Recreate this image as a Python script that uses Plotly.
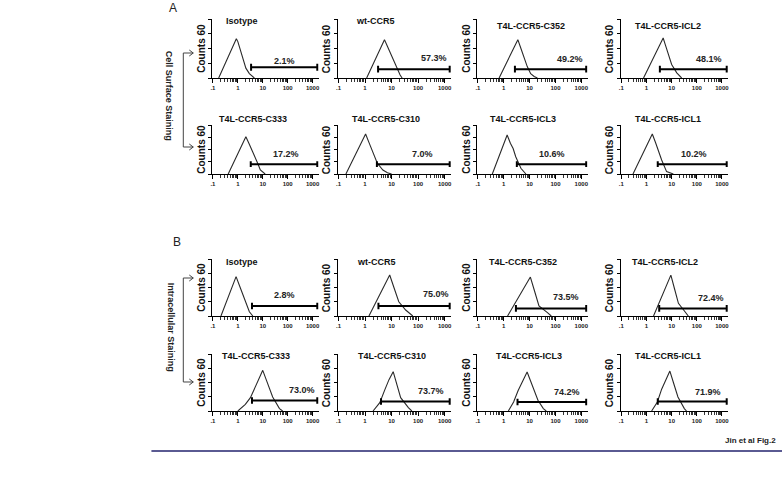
import math
import plotly.graph_objects as go

W, H = 783, 480

titles = ["Isotype", "wt-CCR5", "T4L-CCR5-C352", "T4L-CCR5-ICL2",
          "T4L-CCR5-C333", "T4L-CCR5-C310", "T4L-CCR5-ICL3", "T4L-CCR5-ICL1"]
pct_A = ["2.1%", "57.3%", "49.2%", "48.1%", "17.2%", "7.0%", "10.6%", "10.2%"]
pct_B = ["2.8%", "75.0%", "73.5%", "72.4%", "73.0%", "73.7%", "74.2%", "71.9%"]

# Histogram outlines (fluorescence, counts)
fluor_A = [
    [0.17, 0.3, 0.5, 0.7, 0.87, 1.0, 1.3, 1.8, 2.1, 2.9, 4.0, 4.6],
    [1.15, 1.6, 2.3, 3.2, 4.5, 5.4, 6.5, 9, 13, 16, 21, 25],
    [0.66, 1.0, 1.5, 2.2, 3.0, 3.5, 4.3, 6, 8.1, 11, 15, 20],
    [0.76, 1.2, 1.8, 2.6, 3.6, 4.6, 5.5, 7, 10, 16, 25],
    [0.41, 0.7, 1.0, 1.5, 2.1, 2.8, 3.6, 4.9, 6.5, 8, 12.5],
    [0.19, 0.35, 0.55, 0.8, 1.05, 1.4, 1.9, 2.9, 4.7, 7, 10],
    [0.36, 0.55, 0.8, 1.1, 1.35, 1.8, 2.3, 2.9, 4.6, 7.2],
    [0.29, 0.5, 0.8, 1.2, 1.7, 2.3, 3.0, 4.0, 6.3, 11.7],
]
counts_A = [
    [0, 14, 27, 35, 40, 37, 27, 15, 10, 4.5, 1, 0],
    [0, 8, 17.5, 26, 34.5, 39, 34, 25, 15, 9.6, 3, 0],
    [0, 9.8, 19, 28.6, 35.6, 39, 32.3, 21, 11.6, 4.3, 1.5, 0],
    [0, 10.4, 19.5, 27.9, 35.3, 40.7, 34.4, 26, 13.8, 5.2, 0],
    [0, 15, 25, 36.4, 45.7, 37.3, 30.1, 21.2, 12, 4.9, 0],
    [0, 17.5, 30.5, 41.2, 49, 38.7, 27.9, 13.1, 4.9, 1.5, 0],
    [0, 15.1, 28.7, 40.3, 47.8, 37.7, 31.2, 21.2, 7, 0],
    [0, 15.1, 27.9, 38.9, 49, 38.2, 28, 17.1, 2.9, 0],
]
fluor_B = [
    [0.21, 0.35, 0.55, 0.85, 1.2, 1.6, 2.1, 2.9, 4.0],
    [1.4, 2.3, 3.5, 5.5, 8.5, 12, 18.7, 34, 63],
    [1.4, 2.2, 3.5, 6, 10.7, 15, 23, 49, 69],
    [1.9, 3, 4.6, 6.8, 9.3, 13, 18.6, 34, 46],
    [1.0, 2.0, 3.2, 5, 7.5, 10, 14, 25, 47, 63],
    [2.0, 3.6, 5.5, 8, 11.5, 15, 22, 43, 58],
    [1.5, 2.4, 3.6, 5.5, 8, 11, 21, 34, 44],
    [1.6, 2.7, 4, 6, 8.5, 12, 17.8, 32, 39],
]
counts_B = [
    [0, 14.8, 28.3, 41.4, 31, 22.2, 13.4, 4.5, 0],
    [0, 11.9, 21.9, 32.7, 43.2, 30.8, 15, 6.3, 0],
    [0, 9.1, 18.5, 29.3, 41, 27.6, 10.7, 3.5, 0],
    [0, 12.3, 23.9, 34.5, 43, 28.7, 13.3, 4.5, 0],
    [0, 7, 14, 25, 36, 42.8, 32.5, 14.7, 2.5, 0],
    [0, 8.8, 22, 33, 41.4, 30.4, 14, 3.5, 0],
    [0, 9.5, 21.5, 32, 41, 31.3, 11.3, 2.5, 0],
    [0, 9.5, 23, 33.4, 42, 29.2, 14.7, 2.5, 0],
]

# Gates (marker bars)
gate_start_A = [3.4, 3.1, 2.7, 3.4, 3.3, 2.8, 3.2, 2.8]
gate_start_B = [3.7, 3.2, 2.95, 3.2, 3.7, 4.0, 3.4, 2.8]
gate_end = 1550
gate_y_A = [11, 9, 9, 9, 12, 12, 12, 12]
gate_y_B = [10.5, 10.5, 8, 8, 11, 10, 9.5, 10]

tick_vals = [0.1, 1, 10, 100, 1000]
tick_text = ["<b>.1</b>", "<b>1</b>", "<b>10</b>", "<b>100</b>", "<b>1000</b>"]
minor_vals = [m * d for d in [0.1, 1, 10, 100, 1000] for m in range(2, 10)]

# ---- layout geometry (pixels) ----
cols = [(211, 318), (337, 451), (477, 588), (621, 729)]
rows = [(19, 78), (125, 174), (259, 316), (354, 411)]
title_dx = [12, 16, 18, 12, 5, 12, 11, 12, 12, 17, 10, 9, 8, 18, 17, 12]
title_dy = [2, 2, 7, 7, -6, -6, -6, -6, 3, 3, 3, 3, 2, 2, 2, 2]
pct_lx_A = [72, 400, 350, 316, 85, 148, 74, 81]
pct_ly_A = [17, 20, 19, 19, 24, 24, 25, 25]
pct_lx_B = [76, 470, 250, 380, 390, 316, 282, 270]
pct_ly_B = [22, 23, 20, 19, 22, 21, 20, 20]

def px(x):
    return x / W

def py(y):
    return 1 - y / H

FONT = "Liberation Sans"
fig = go.Figure()
annotations = []
shapes = []
layout = {}

fluor = fluor_A + fluor_B
counts = counts_A + counts_B
gstart = gate_start_A + gate_start_B
gy = gate_y_A + gate_y_B
pcts = pct_A + pct_B
plx = pct_lx_A + pct_lx_B
ply = pct_ly_A + pct_ly_B

for k in range(16):
    r, c = k // 4, k % 4
    sfx = "" if k == 0 else str(k + 1)
    xa, ya = "x" + sfx, "y" + sfx
    x0, x1 = cols[c]
    y0, y1 = rows[r]
    layout["xaxis" + sfx] = dict(
        domain=[px(x0), px(x1)], anchor=ya, type="log", range=[-1.03, 3.25],
        showline=True, linecolor="black", linewidth=1, showgrid=False, zeroline=False,
        tickmode="array", tickvals=tick_vals, ticktext=tick_text,
        ticks="outside", ticklen=4, tickwidth=1, tickcolor="black",
        tickfont=dict(family=FONT, size=6, color="#222"),
        minor=dict(tickvals=minor_vals, ticks="outside", ticklen=2.5, tickwidth=1, tickcolor="#333"),
        fixedrange=True,
    )
    layout["yaxis" + sfx] = dict(
        domain=[py(y1), py(y0)], anchor=xa, range=[0, 60],
        showline=True, linecolor="black", linewidth=1, showgrid=False, zeroline=False,
        tickmode="array", tickvals=[0, 15, 30, 45, 60], showticklabels=False,
        ticks="outside", ticklen=3, tickwidth=1, tickcolor="black", fixedrange=True,
    )
    # histogram
    fig.add_trace(go.Scatter(x=fluor[k], y=counts[k], mode="lines", xaxis=xa, yaxis=ya,
                             line=dict(color="#2a2a2a", width=1.1), showlegend=False, hoverinfo="skip"))
    # gate bar with end caps
    gs, ge, g = gstart[k], gate_end, gy[k]
    fig.add_trace(go.Scatter(x=[gs, ge, None, gs, gs, None, ge, ge],
                             y=[g, g, None, g - 3.5, g + 3.5, None, g - 3.5, g + 3.5],
                             mode="lines", xaxis=xa, yaxis=ya,
                             line=dict(color="black", width=2), showlegend=False, hoverinfo="skip"))
    # percentage label (log axis -> annotation x in log10 units)
    annotations.append(dict(x=math.log10(plx[k]), y=ply[k], xref=xa, yref=ya,
                            text="<b>" + pcts[k] + "</b>",
                            showarrow=False, font=dict(family=FONT, size=9, color="#222"),
                            xanchor="center", yanchor="middle"))
    # title
    annotations.append(dict(x=px(x0 + title_dx[k]), y=py(y0 + title_dy[k]), xref="paper", yref="paper",
                            text="<b>" + titles[k % 8] + "</b>", showarrow=False,
                            font=dict(family=FONT, size=9, color="#111"),
                            xanchor="left", yanchor="middle"))
    # y label
    annotations.append(dict(x=px(x0 - 11), y=py((y0 + y1) / 2), xref="paper", yref="paper",
                            text="<b>Counts 60</b>", textangle=-90, showarrow=False,
                            font=dict(family=FONT, size=10, color="#111"),
                            xanchor="center", yanchor="middle"))

def free_text(x, y, text, size, angle=0, xanchor="center", bold=False):
    return dict(x=px(x), y=py(y), xref="paper", yref="paper",
                text=("<b>%s</b>" % text) if bold else text, textangle=angle,
                showarrow=False, xanchor=xanchor, yanchor="middle",
                font=dict(family=FONT, size=size, color="#222"))

annotations.append(free_text(172, 8, "A", 12))
annotations.append(free_text(176, 242, "B", 12))
annotations.append(free_text(168, 96, "Cell Surface Staining", 9, angle=90, bold=True))
annotations.append(free_text(170, 327, "Intracellular Staining", 9, angle=90, bold=True))
annotations.append(free_text(779, 440, "Jin et al Fig.2", 8, xanchor="right", bold=True))

def bracket(xl, xr, yt, yb):
    p = lambda x, y: f"{px(x):.5f},{py(y):.5f}"
    path = (f"M {p(xr, yt)} L {p(xl, yt)} L {p(xl, yb)} L {p(xr, yb)} "
            f"M {p(xr - 4, yt - 3)} L {p(xr, yt)} L {p(xr - 4, yt + 3)} "
            f"M {p(xr - 4, yb - 3)} L {p(xr, yb)} L {p(xr - 4, yb + 3)}")
    return dict(type="path", path=path, xref="paper", yref="paper",
                line=dict(color="#444", width=1))

shapes.append(bracket(182, 192, 53, 147))
shapes.append(bracket(182, 192, 278, 382))
shapes.append(dict(type="line", x0=px(150), x1=1, y0=py(451), y1=py(451), xref="paper", yref="paper",
                   line=dict(color="#23236e", width=1.5)))

fig.update_layout(
    width=W, height=H, margin=dict(l=0, r=0, t=0, b=0),
    paper_bgcolor="white", plot_bgcolor="white",
    annotations=annotations, shapes=shapes, showlegend=False,
    **layout,
)

fig.write_html("out.html")
